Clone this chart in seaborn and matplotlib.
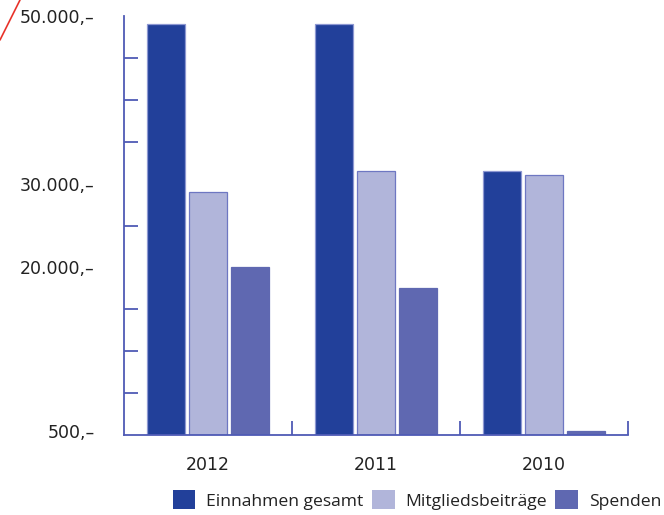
import matplotlib
matplotlib.use('Agg')
import matplotlib.pyplot as plt
import matplotlib.lines as mlines
import numpy as np
import pandas as pd
import seaborn as sns

# data
YEARS = ['2012', '2011', '2010']
SERIES = ['Einnahmen gesamt', 'Mitgliedsbeiträge', 'Spenden']
EINNAHMEN = [49000, 49000, 31500]
MITGLIED = [29000, 31500, 31000]
SPENDEN = [20000, 17500, 500]
Y_LABEL_VALUES = [500, 20000, 30000, 50000]
Y_LABELS = ['500,–', '20.000,–', '30.000,–', '50.000,–']

COLORS = ['#22409A', '#B1B5DA', '#5F68B1']
EDGES = ['#8E98D2', '#6E77C2', '#5F68B1']
AXIS_COLOR = '#4F5BB5'
TEXT_COLOR = '#222222'

sns.set_style('white')
plt.rcParams['font.family'] = ['Open Sans', 'DejaVu Sans']

df = pd.DataFrame({
    'Jahr': YEARS * 3,
    'Serie': [s for s in SERIES for _ in YEARS],
    'Wert': EINNAHMEN + MITGLIED + SPENDEN,
})

fig = plt.figure(figsize=(6.64, 5.15), dpi=100)
ax = fig.add_axes([124 / 664, 1 - 435 / 515, 504 / 664, 419 / 515])

sns.barplot(data=df, x='Jahr', y='Wert', hue='Serie', order=YEARS, hue_order=SERIES,
            palette=COLORS, width=0.75, gap=0.1, ax=ax, legend=False, errorbar=None,
            saturation=1)

# edge colours per series
for container, edge in zip(ax.containers, EDGES):
    for bar in container:
        bar.set_edgecolor(edge)
        bar.set_linewidth(0.9)

ax.set_xlim(-0.5, 2.5)
ax.set_ylim(0, 50000)
ax.set_xlabel('')
ax.set_ylabel('')

for side in ['top', 'right']:
    ax.spines[side].set_visible(False)
for side in ['left', 'bottom']:
    ax.spines[side].set_color(AXIS_COLOR)
    ax.spines[side].set_linewidth(1.3)

ax.set_yticks(Y_LABEL_VALUES)
ax.set_yticklabels(Y_LABELS)
ax.set_yticks(np.arange(5000, 50001, 5000), minor=True)
ax.tick_params(axis='y', which='major', length=0, pad=21, labelsize=12.5, labelcolor=TEXT_COLOR)
ax.tick_params(axis='y', which='minor', direction='in', length=10, width=1.3, color=AXIS_COLOR, left=True)

ax.set_xticks([0, 1, 2])
ax.set_xticklabels(YEARS)
ax.set_xticks([0.5, 1.5, 2.5], minor=True)
ax.tick_params(axis='x', which='major', length=0, pad=15, labelsize=12.5, labelcolor=TEXT_COLOR)
ax.tick_params(axis='x', which='minor', direction='in', length=10, width=1.3, color=AXIS_COLOR, bottom=True)
ax.grid(False)

for lbl in ax.get_xticklabels() + ax.get_yticklabels():
    lbl.set_fontfamily(['DejaVu Sans'])

handles = [plt.Rectangle((0, 0), 1, 1, facecolor=c, edgecolor='none') for c in COLORS]
fig.legend(handles, SERIES, loc='center right', bbox_to_anchor=(661 / 664, 1 - 500 / 515),
           ncol=3, frameon=False, fontsize=12.6, handlelength=1.3, handleheight=1.3,
           handletextpad=0.6, columnspacing=0.5, labelcolor=TEXT_COLOR, borderaxespad=0,
           borderpad=0)

# red stroke in the top left corner
fig.add_artist(mlines.Line2D([0, 20 / 664], [1 - 40 / 515, 1], color='#E8332A',
                             linewidth=1.2, transform=fig.transFigure))

fig.savefig('out.png', dpi=100, facecolor='white')
